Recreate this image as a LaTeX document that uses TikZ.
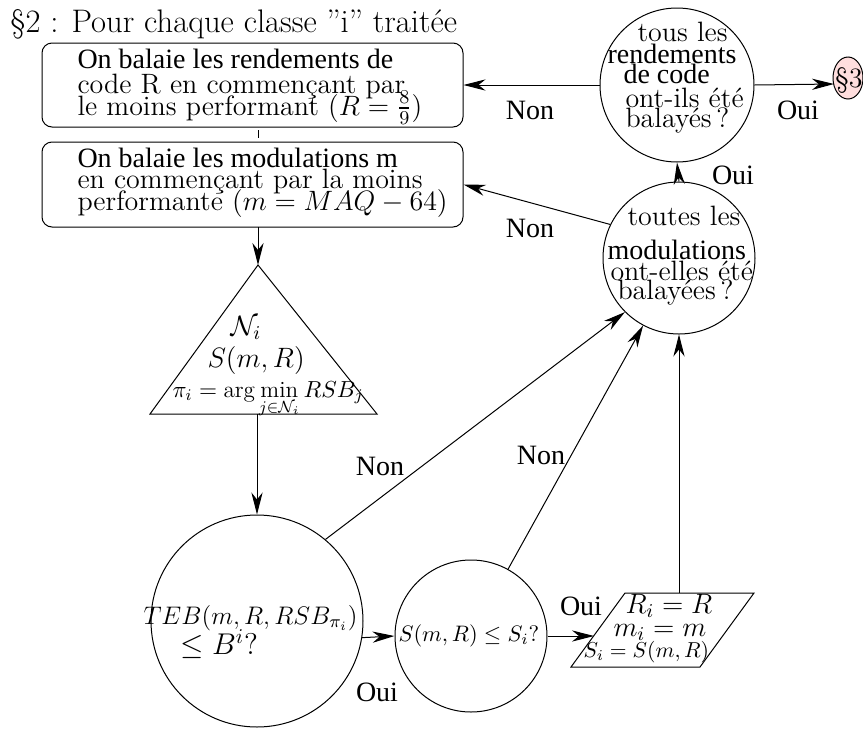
\RequirePackage{fix-cm}
\documentclass[tikz,border=0pt]{standalone}
\usepackage{fontspec}
\usepackage{amsmath}
\usetikzlibrary{arrows.meta,shapes.geometric}
\newfontfamily\tms{Liberation Serif}
\definecolor{pinkfill}{RGB}{255,222,222}
\newcommand{\fsz}[1]{\fontsize{#1}{#1}\selectfont}
\begin{document}
\begin{tikzpicture}[x=0.5pt,y=-0.5pt,
  line width=0.5pt,
  arr/.style={-{Stealth[length=11pt,width=5.6pt,inset=3.5pt]}},
  boxn/.style={draw,rounded corners=5pt,inner sep=0pt},
  circn/.style={draw,circle,inner sep=0pt},
  cmt/.style={inner sep=0pt,anchor=base west,font=\fsz{14}},
  tmt/.style={inner sep=0pt,anchor=base west,font=\tms\fsz{14}},
  lbl/.style={inner sep=0pt,anchor=center,font=\tms\fsz{14}}]
\useasboundingbox (0,0) rectangle (863,729);

% title
\node[inner sep=0pt,anchor=base west,font=\fsz{16.3}] (title) at (10,32) {§2 : Pour chaque classe "i" traitée};

% boxes
\node[boxn,minimum width=210.5pt,minimum height=42pt] (b1) at (252.5,85) {};
\node[boxn,minimum width=210.5pt,minimum height=42.5pt] (b2) at (252.5,184.5) {};
\node[tmt] (b1l1) at (77,68) {On balaie les rendements de};
\node[cmt] (b1l2) at (77,93) {code R en commençant par};
\node[cmt] (b1l3) at (77,115) {le moins performant ($R=\frac{8}{9}$)};
\node[tmt] (b2l1) at (77,167) {On balaie les modulations m};
\node[cmt] (b2l2) at (77,188) {en commençant par la moins};
\node[cmt] (b2l3) at (77,210) {performante ($m=MAQ-64$)};

\coordinate (k1) at (258,130);
\coordinate (k2) at (258,138);
\draw (k1) -- (k2);

% triangle
\coordinate (tA) at (258,265);
\coordinate (tL) at (150,414);
\coordinate (tR) at (377,414);
\coordinate (tB) at (257,414);
\draw (tA) -- (tR) -- (tL) -- cycle;
\node[cmt] (n1) at (230,335) {$\mathcal{N}_i$};
\node[cmt] (n2) at (207,367) {$S(m,R)$};
\node[cmt,font=\fsz{11.6}] (n3) at (172,397) {$\pi_i=\arg\min\limits_{j\in\mathcal{N}_i} RSB_j$};
\coordinate (b2s) at (258,227);
\draw[arr] (b2s) -- (tA);

% circles
\node[circn,minimum size=106pt] (c1) at (257,621) {};
\node[circn,minimum size=76pt] (c2) at (471,636) {};
\node[circn,minimum size=76pt] (c3) at (679,258) {};
\node[circn,minimum size=77pt] (c4) at (677,85) {};
\node[ellipse,draw,fill=pinkfill,inner sep=0pt,minimum width=15pt,minimum height=21pt] (s3) at (848,78) {};
\node[inner sep=0pt,font=\fsz{14}] (s3t) at (849,80) {§3};

\node[cmt,font=\fsz{12.7}] (c1a) at (143,624) {$TEB(m,R,RSB_{\pi_i})$};
\node[cmt,font=\fsz{15}] (c1b) at (180,654) {$\leq B^i?$};
\node[cmt,font=\fsz{11.2}] (c2a) at (398,641) {$S(m,R)\leq S_i?$};

\node[cmt] (c3a) at (627,225) {toutes les};
\node[tmt] (c3b) at (607,259) {modulations};
\node[cmt] (c3c) at (610,280) {ont-elles été};
\node[cmt] (c3d) at (617,299) {balayées\,?};

\node[cmt] (c4a) at (637,41) {tous les};
\node[tmt] (c4b) at (607,63) {rendements};
\node[tmt] (c4c) at (623,83) {de code};
\node[cmt] (c4d) at (625,107) {ont-ils été};
\node[cmt] (c4e) at (625,127) {balayés\,?};

% parallelogram
\coordinate (pTL) at (625,593);
\coordinate (pTR) at (754,593);
\coordinate (pBR) at (700,667);
\coordinate (pBL) at (571,667);
\coordinate (pIn) at (594,636);
\coordinate (pTop) at (679,593);
\draw (pTL) -- (pTR) -- (pBR) -- (pBL) -- cycle;
\node[cmt] (p1) at (625,613) {$R_i=R$};
\node[cmt] (p2) at (613,636) {$m_i=m$};
\node[cmt,font=\fsz{10.8}] (p3) at (583,657) {$S_i=S(m,R)$};

% connectors
\draw[arr] (tB) -- (c1.north);
\draw[arr] (c1.-9) -- (c2.west);
\draw[arr] (c2.east) -- (pIn);
\draw[arr] (pTop) -- (c3.south);
\draw[arr] (c1.50) -- (c3.225);
\draw[arr] (c2.61) -- (c3.242);
\draw[arr] (c3.154) -- (b2.east);
\draw[arr] (c3.north) -- (c4.south);
\draw[arr] (c4.west) -- (b1.east);
\coordinate (s3in) at (834,84);
\draw[arr] (c4.east) -- (s3in);

% labels
\node[lbl] (l1) at (530,110) {Non};
\node[lbl] (l2) at (798,110) {Oui};
\node[lbl] (l3) at (733,175) {Oui};
\node[lbl] (l4) at (530,228) {Non};
\node[lbl] (l5) at (380,466) {Non};
\node[lbl] (l6) at (377,692) {Oui};
\node[lbl] (l7) at (541,455) {Non};
\node[lbl] (l8) at (581,606) {Oui};
\end{tikzpicture}
\end{document}
